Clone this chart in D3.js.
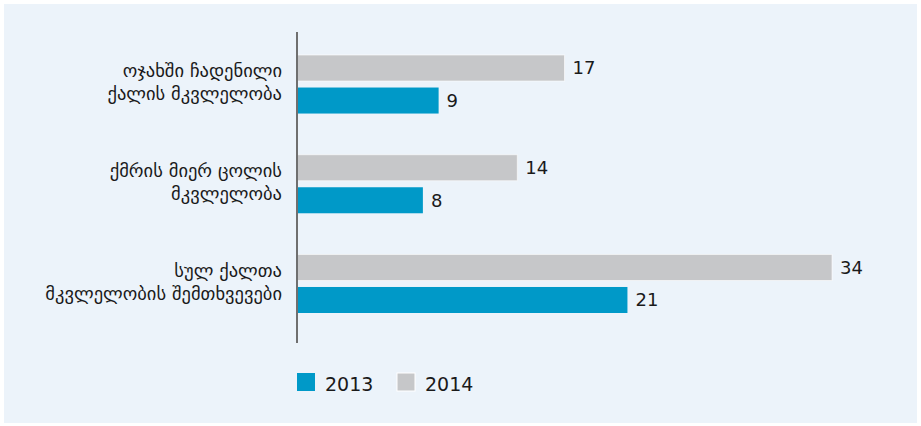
<!DOCTYPE html>
<html>
<head>
<meta charset="utf-8">
<script src="https://cdn.jsdelivr.net/npm/d3@7"></script>
<style>
  html, body { margin: 0; padding: 0; background: #fff; }
  text { font-family: "DejaVu Sans", sans-serif; fill: #1a1a1a; }
</style>
</head>
<body>
<div id="chart"></div>
<script>
  // categories (two lines each)
  const categories = [
    ['ოჯახში ჩადენილი', 'ქალის მკვლელობა'],
    ['ქმრის მიერ ცოლის', 'მკვლელობა'],
    ['სულ ქალთა', 'მკვლელობის შემთხვევები']
  ];
  const years = ['2014', '2013'];
  const values2013 = [9, 8, 21];
  const values2014 = [17, 14, 34];
  const legendLabels = ['2013', '2014'];

  const colors = { '2013': '#0099c8', '2014': '#c6c7c9' };

  const width = 921, height = 426;

  const svg = d3.select('#chart').append('svg')
    .attr('width', width)
    .attr('height', height);

  // panel
  svg.append('rect')
    .attr('x', 4).attr('y', 4)
    .attr('width', 913).attr('height', 419)
    .attr('fill', '#ecf3fa');

  const keys = categories.map((d, i) => i);

  const x = d3.scaleLinear()
    .domain([0, 34])
    .range([297, 832]);

  const y = d3.scaleBand()
    .domain(keys)
    .range([55, 313])
    .paddingInner(0.413);

  const ySub = d3.scaleBand()
    .domain(years)
    .range([0, y.bandwidth()])
    .paddingInner(0.2);

  const rows = keys.map(i => ({
    i: i,
    '2013': values2013[i],
    '2014': values2014[i]
  }));

  const g = svg.append('g');

  const groups = g.selectAll('g.group')
    .data(rows)
    .enter().append('g')
    .attr('class', 'group')
    .attr('transform', d => `translate(0,${y(d.i)})`);

  groups.selectAll('rect')
    .data(d => years.map(k => ({ key: k, value: d[k] })))
    .enter().append('rect')
    .attr('x', x(0))
    .attr('y', d => ySub(d.key))
    .attr('width', d => x(d.value) - x(0))
    .attr('height', ySub.bandwidth())
    .attr('fill', d => colors[d.key])
    .attr('stroke', d => d.key === '2014' ? '#ffffff' : 'none')
    .attr('stroke-opacity', 0.6)
    .attr('stroke-width', 1);

  groups.selectAll('text.value')
    .data(d => years.map(k => ({ key: k, value: d[k] })))
    .enter().append('text')
    .attr('class', 'value')
    .attr('x', d => x(d.value) + 8)
    .attr('y', d => ySub(d.key) + ySub.bandwidth() / 2)
    .attr('dy', '0.36em')
    .style('font-size', '18px')
    .text(d => d.value);

  // category labels
  const labels = g.selectAll('text.cat')
    .data(rows)
    .enter().append('text')
    .attr('class', 'cat')
    .attr('text-anchor', 'end')
    .attr('x', 282)
    .attr('y', d => y(d.i) + y.bandwidth() / 2 - 7)
    .style('font-size', '18.5px');

  labels.selectAll('tspan')
    .data(d => categories[d.i].map((t, j) => ({ t: t, j: j })))
    .enter().append('tspan')
    .attr('x', 282)
    .attr('dy', d => d.j === 0 ? 0 : 23)
    .text(d => d.t);

  // axis line
  svg.append('line')
    .attr('x1', x(0)).attr('x2', x(0))
    .attr('y1', 32).attr('y2', 343)
    .attr('stroke', '#6f6f6f')
    .attr('stroke-width', 2);

  // legend
  const legend = svg.append('g')
    .attr('transform', 'translate(297,373)');

  const items = legend.selectAll('g')
    .data(legendLabels)
    .enter().append('g')
    .attr('transform', (d, i) => `translate(${i * 100},0)`);

  items.append('rect')
    .attr('width', 18).attr('height', 18)
    .attr('fill', d => colors[d])
    .attr('stroke', d => d === '2014' ? '#ffffff' : 'none')
    .attr('stroke-width', 1);

  items.append('text')
    .attr('x', 28)
    .attr('y', 18)
    .style('font-size', '19px')
    .text(d => d);
</script>
</body>
</html>
